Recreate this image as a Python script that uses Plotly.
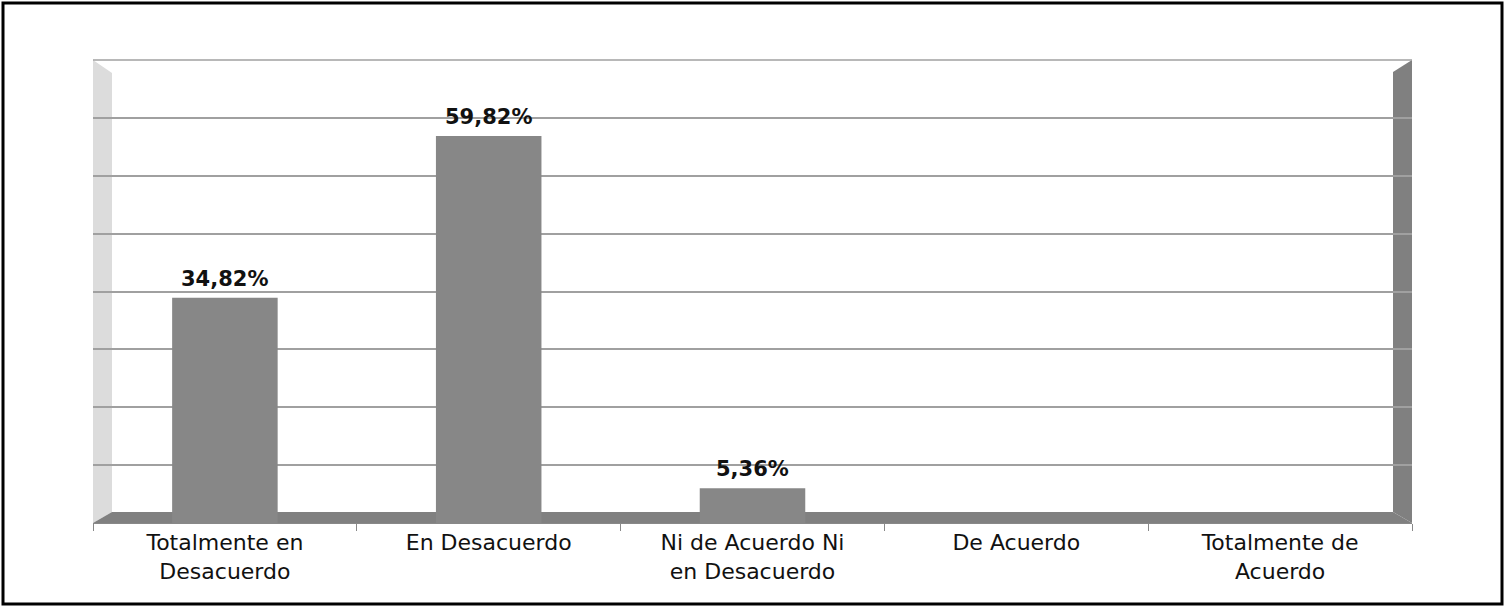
import plotly.graph_objects as go

# survey answers (share of respondents, %)
categories = [
    "Totalmente en<br>Desacuerdo",
    "En Desacuerdo",
    "Ni de Acuerdo Ni<br>en Desacuerdo",
    "De Acuerdo",
    "Totalmente de<br>Acuerdo",
]
values = [34.82, 59.82, 5.36, 0, 0]

# back-wall grid: 8 equal steps (0..80 %) drawn on the back wall
grid_steps = 8

W, H = 1509, 608
L, R, T, B = 93, 97, 60, 85
PLOT_W = W - L - R
PLOT_H = H - T - B
PX_PER_PCT = 6.47  # front bars look taller than the back wall scale
Y_MAX = PLOT_H / PX_PER_PCT

BAR_COLOR = "#878787"
GRID_COLOR = "#a0a0a0"
WALL_LIGHT = "#dcdcdc"
WALL_DARK = "#808080"


def px2paper(x, y):
    return (x - L) / PLOT_W, (H - B - y) / PLOT_H


def poly(points, color):
    pts = [px2paper(x, y) for x, y in points]
    path = "M " + " L ".join(f"{a:.5f},{b:.5f}" for a, b in pts) + " Z"
    return dict(type="path", path=path, xref="paper", yref="paper",
                fillcolor=color, line=dict(width=0), layer="below")


fig = go.Figure()

fig.add_trace(go.Bar(
    x=categories,
    y=values,
    marker=dict(color=BAR_COLOR, line=dict(width=0)),
    width=0.4,
    hoverinfo="skip",
))

# value labels, only for answers that got any votes
annotations = []
for cat, val in zip(categories, values):
    if val <= 0:
        continue
    annotations.append(dict(
        x=cat, y=val, xref="x", yref="y",
        text=f"{val:.2f}%".replace(".", ","),
        showarrow=False, yanchor="bottom", yshift=5,
        font=dict(family="DejaVu Sans", size=21, color="#111111", weight="bold"),
    ))

# fake 3D walls / floor, top edge of the back wall and outer frame
x0, y0 = px2paper(3, 604)
x1, y1 = px2paper(1502, 3)
shapes = [
    poly([(93, 60), (112, 73), (112, 512), (93, 523)], WALL_LIGHT),
    poly([(1393, 72), (1412, 60), (1412, 523), (1393, 512)], WALL_DARK),
    poly([(93, 523), (112, 512), (1393, 512), (1412, 523)], WALL_DARK),
    dict(type="line", xref="paper", yref="paper", x0=0, x1=1, y0=1, y1=1,
         line=dict(color=GRID_COLOR, width=1.5)),
    dict(type="rect", xref="paper", yref="paper", x0=x0, y0=y0, x1=x1, y1=y1,
         line=dict(color="#000000", width=3), fillcolor="rgba(0,0,0,0)", layer="above"),
]

# gridlines of the back wall, spread evenly over the plot height
grid_vals = [Y_MAX * k / grid_steps for k in range(1, grid_steps)]

fig.update_layout(
    width=W, height=H,
    margin=dict(l=L, r=R, t=T, b=B),
    paper_bgcolor="white",
    plot_bgcolor="white",
    showlegend=False,
    shapes=shapes,
    annotations=annotations,
    xaxis=dict(
        type="category",
        tickson="boundaries",
        ticks="outside", ticklen=7, tickcolor="#888888", tickwidth=1,
        showline=True, linecolor="#888888", linewidth=1,
        showgrid=False,
        tickfont=dict(family="DejaVu Sans", size=22, color="#111111"),
    ),
    yaxis=dict(
        range=[0, Y_MAX],
        tickvals=grid_vals,
        showticklabels=False, ticks="",
        showgrid=True, gridcolor=GRID_COLOR, gridwidth=1.5,
        zeroline=False, showline=False,
    ),
)

# the page has no body margin in the reference picture
fig.write_html(
    "out.html",
    config={"displayModeBar": False},
    post_script="document.body.style.margin='0px';",
)
